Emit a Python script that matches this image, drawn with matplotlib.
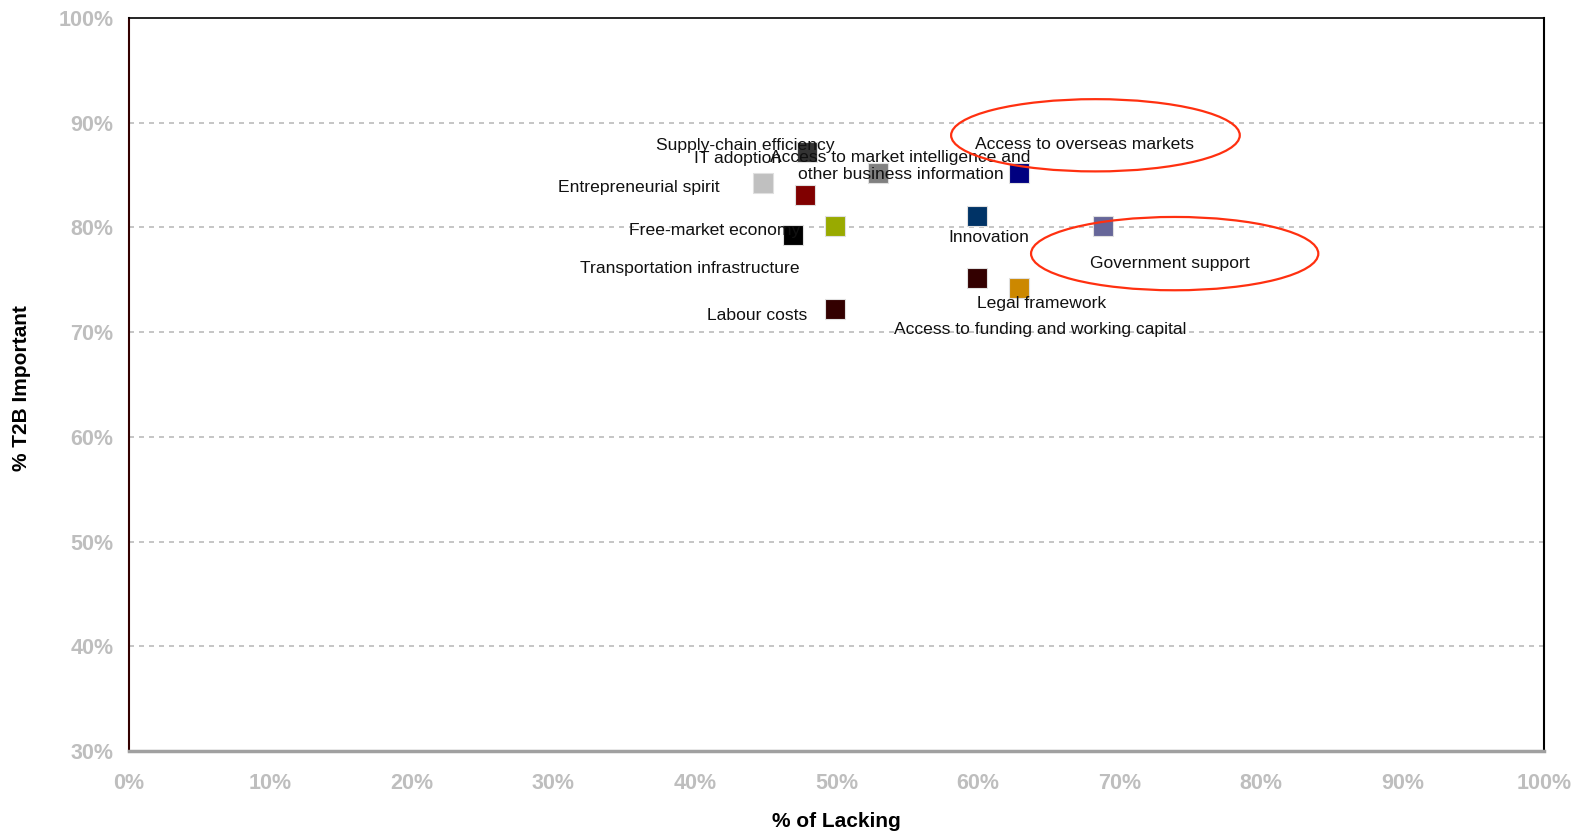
import matplotlib.pyplot as plt
from matplotlib.patches import Ellipse
import numpy as np

plt.rcParams['font.family'] = ['Liberation Sans', 'DejaVu Sans']

# data (% lacking, % T2B important)
factors = [
    "Supply-chain efficiency",
    "IT adoption",
    "Access to market intelligence and\nother business information",
    "Entrepreneurial spirit",
    "Free-market economy",
    "Transportation infrastructure",
    "Labour costs",
    "Access to overseas markets",
    "Innovation",
    "Government support",
    "Access to funding and working capital",
    "Legal framework",
]
lacking = [47.9, 47.8, 52.9, 44.8, 46.9, 49.9, 49.9, 62.9, 59.9, 68.8, 59.9, 62.9]
important = [87.2, 83.1, 85.2, 84.2, 79.3, 80.1, 72.2, 85.2, 81.1, 80.1, 75.2, 74.2]
colors = ["#333333", "#800000", "#808080", "#C0C0C0", "#000000", "#99AA00",
          "#330000", "#000080", "#003366", "#666699", "#330000", "#CC8800"]
# label offsets from marker, in pixels
label_offsets = [(-62, 7), (-68, 36), (23, 7), (-124, -4), (-78, 4), (-145, -42),
                 (-78, -6), (65, 28), (12, -22), (67, -37), (64, -52), (23, -15)]

# highlighted groups (center x, center y, width, height) in data units
highlights = [(68.3, 88.8, 20.4, 6.9), (73.9, 77.5, 20.3, 7.0)]

fig = plt.figure(figsize=(15.79, 8.38), dpi=100)
ax = fig.add_axes([129 / 1579, 1 - 751 / 838, 1415 / 1579, 733 / 838])

for x, y, c in zip(lacking, important, colors):
    ax.scatter(x, y, marker='s', s=190, color=c, edgecolors='#e0e0e0',
               linewidths=0.8, zorder=3)

for name, x, y, off in zip(factors, lacking, important, label_offsets):
    ax.annotate(name, (x, y), xytext=off, textcoords='offset pixels',
                ha='center', va='center', fontsize=12.6, color='#111111',
                linespacing=1.15, zorder=4)

for cx, cy, w, h in highlights:
    ax.add_patch(Ellipse((cx, cy), w, h, fill=False, edgecolor='#FF3010',
                         linewidth=1.6, zorder=5))

ax.set_xlim(0, 100)
ax.set_ylim(30, 100)
ax.set_xticks(np.arange(0, 101, 10))
ax.set_yticks(np.arange(30, 101, 10))
ax.set_xticklabels([f"{v}%" for v in range(0, 101, 10)])
ax.set_yticklabels([f"{v}%" for v in range(30, 101, 10)])
ax.tick_params(length=0, labelsize=15.5, labelcolor='#BEBEBE')
ax.tick_params(axis='x', pad=16)
ax.tick_params(axis='y', pad=11)
for lbl in ax.get_xticklabels() + ax.get_yticklabels():
    lbl.set_fontweight('bold')

for v in range(40, 100, 10):
    ax.axhline(v, color='#BBBBBB', linestyle=(0, (3, 3)), linewidth=1.2, zorder=1)

ax.spines['top'].set_color('#000000')
ax.spines['right'].set_color('#000000')
ax.spines['left'].set_color('#330000')
ax.spines['bottom'].set_color('#A0A0A0')
ax.spines['top'].set_linewidth(1.2)
ax.spines['right'].set_linewidth(1.5)
ax.spines['left'].set_linewidth(1.5)
ax.spines['bottom'].set_linewidth(2.5)

fig.text(836 / 1579, 1 - 821 / 838, "% of Lacking", ha='center', va='center',
         fontsize=15, fontweight='bold')
fig.text(22 / 1579, 1 - 388 / 838, "% T2B Important", ha='center', va='center',
         rotation=90, fontsize=15, fontweight='bold')

fig.savefig("out.png", dpi=100)
